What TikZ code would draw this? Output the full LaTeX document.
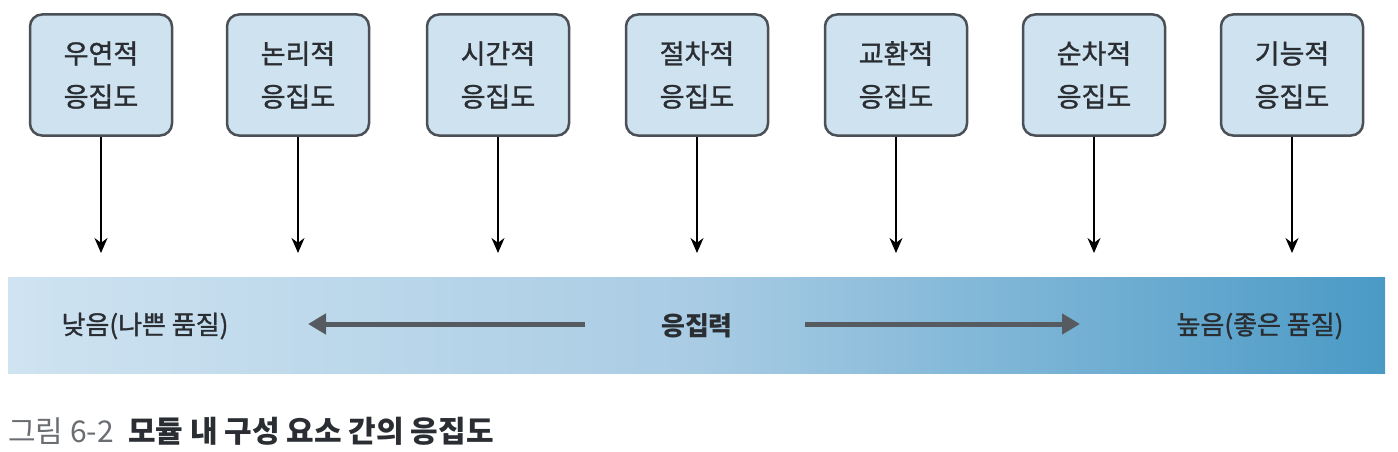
\documentclass[tikz,border=0pt]{standalone}
\usepackage{fontspec}
\setmainfont{Noto Sans CJK KR}
\newfontfamily\krmed{Noto Sans CJK KR}[FakeBold=1.2]
\usetikzlibrary{arrows.meta}
\definecolor{boxfill}{HTML}{CFE2F0}
\definecolor{boxline}{HTML}{4A5055}
\definecolor{bandL}{HTML}{CFE3F1}
\definecolor{bandM}{HTML}{A9CCE4}
\definecolor{bandR}{HTML}{4A9AC6}
\definecolor{bigarrow}{HTML}{565B61}
\definecolor{txt}{HTML}{2A2E33}
\definecolor{capgray}{HTML}{6A6E72}
\tikzset{
  cbox/.style={draw=boxline, line width=2.5pt, fill=boxfill, rounded corners=12pt,
    minimum width=142pt, minimum height=121pt, align=center, inner sep=0pt,
    font=\krmed\fontsize{27}{43}\selectfont, text=txt},
  down/.style={line width=1.4pt, -{Stealth[length=15pt,width=13pt]}},
  big/.style={draw=bigarrow, line width=5pt, -{Triangle[length=18pt,width=20pt]}},
  bandtxt/.style={font=\krmed\fontsize{26}{30}\selectfont, text=txt, inner sep=0pt}
}
\begin{document}
\begin{tikzpicture}[x=1pt,y=-1pt]
\useasboundingbox (0,0) rectangle (1398,452);
\fill[left color=bandL, right color=bandR, middle color=bandM] (8,277) rectangle (1385,373);
\node[cbox] (b1) at (101,75) {우연적\\응집도};
\node[cbox] (b2) at (298,75) {논리적\\응집도};
\node[cbox] (b3) at (498,75) {시간적\\응집도};
\node[cbox] (b4) at (697,75) {절차적\\응집도};
\node[cbox] (b5) at (896,75) {교환적\\응집도};
\node[cbox] (b6) at (1094,75) {순차적\\응집도};
\node[cbox] (b7) at (1292,75) {기능적\\응집도};
\foreach \i/\x in {1/101,2/298,3/498,4/697,5/896,6/1094,7/1292}{
  \coordinate (t\i) at (\x,253);
  \draw[down] (b\i.south) -- (t\i);
}
\node[bandtxt] (low) at (145,326) {낮음(나쁜 품질)};
\node[bandtxt, font=\fontsize{26}{30}\selectfont\bfseries] (mid) at (697,326) {응집력};
\node[bandtxt] (high) at (1260,326) {높음(좋은 품질)};
\coordinate (la) at (585,324);
\coordinate (lb) at (308,324);
\coordinate (ra) at (805,324);
\coordinate (rb) at (1080,324);
\draw[big] (la) -- (lb);
\draw[big] (ra) -- (rb);
\node[anchor=west, inner sep=0pt, font=\fontsize{30}{32}\selectfont, text=capgray] (cap1) at (8,431) {그림 6-2};
\node[anchor=west, inner sep=0pt, font=\fontsize{30}{32}\selectfont\bfseries, text=txt] (cap2) at (cap1.east) {\hspace{14pt}모듈 내 구성 요소 간의 응집도};
\end{tikzpicture}
\end{document}
